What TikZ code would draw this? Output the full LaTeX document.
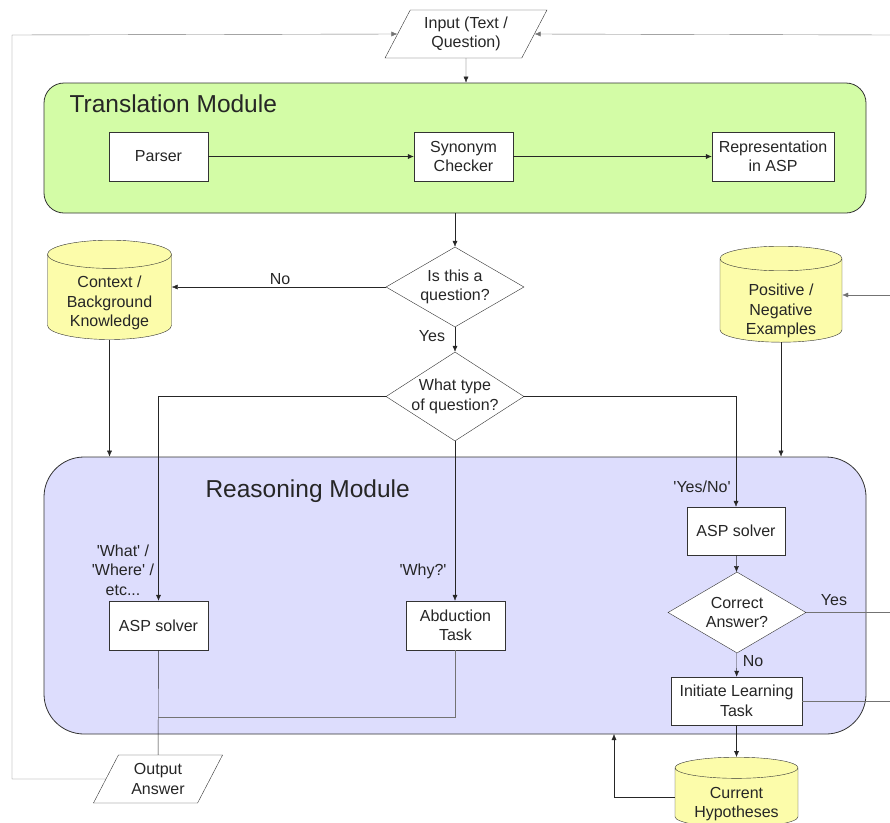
\documentclass[tikz,border=0pt]{standalone}
\usepackage{fontspec}
\setmainfont[Ligatures=TeXOff]{Liberation Sans}
\usepackage{tikz}
\usetikzlibrary{shapes.geometric,arrows.meta}

\definecolor{transgreen}{RGB}{211,252,166}
\definecolor{reasonblue}{RGB}{221,221,253}
\definecolor{storeyellow}{RGB}{252,252,170}

\begin{document}
\begin{tikzpicture}[x=1pt,y=-1pt,
		every node/.style={font=\fontsize{16}{19.5}\selectfont, align=center, text=black!85},
		process/.style={draw=black!80, fill=white, minimum width=99pt, minimum height=49pt, inner sep=2pt},
		decision/.style={draw=black!80, fill=white, diamond, shape aspect=1.72, minimum width=138pt, minimum height=80pt, inner sep=-6pt},
		inout/.style={draw=black!80, fill=white, trapezium, trapezium left angle=62, trapezium right angle=118, trapezium stretches=true, minimum height=48pt, inner sep=1pt},
		store/.style={draw=black!80, fill=storeyellow, cylinder, shape border rotate=90, aspect=0.22, minimum width=124pt, inner xsep=0pt, anchor=north},
		module/.style={draw=black!80, line width=0.8pt},
		title/.style={font=\fontsize{24.5}{28}\selectfont, anchor=west},
		conn/.style={draw=black!85, -{Latex[length=6pt,width=5pt]}},
		wire/.style={draw=black!85},
		loop/.style={draw=black!55}]

			\useasboundingbox (0,0) rectangle (890,822);

			\coordinate (lft) at (12,35);
			\coordinate (rgtin) at (890,35);
			\coordinate (rgtpos) at (890,295);
			\coordinate (rgtyes) at (890,613);
			\coordinate (rgtinit) at (890,701);
			\coordinate (join) at (158,717);
			\coordinate (fb) at (614,734);

			\node [module, fill=transgreen, rounded corners=20pt, minimum width=822pt, minimum height=130pt] (trans) at (455,148) {};
			\node [title] (transtitle) at (66,104) {Translation Module};
			\node [module, fill=reasonblue, rounded corners=40pt, minimum width=822pt, minimum height=277pt] (reason) at (455,595.5) {};
			\node [title] (reasontitle) at (202,491) {Reasoning Module};

			\node [inout, minimum width=162pt] (inp) at (466,34) {Input (Text /\\Question)};
			\node [inout, minimum width=130pt] (out) at (158,779) {Output\\Answer};

			\node [process] (parser) at (158.5,156.5) {Parser};
			\node [process] (syn) at (463.5,156.5) {Synonym\\Checker};
			\node [process, minimum width=122pt] (repr) at (773,156.5) {Representation\\in ASP};

			\node [decision] (isq) at (455,287) {Is this a\\question?};
			\node [decision, minimum height=89pt, shape aspect=1.55] (what) at (455,396.5) {What type\\of question?};

			\node [store, aspect=0.33, minimum height=94pt, inner ysep=-4.5pt] (ctx) at (109.5,240) {\rule{0pt}{23.5pt}Context /\\Background\\Knowledge};
			\node [store, aspect=0.35, minimum width=122pt, minimum height=96pt, inner ysep=-9pt] (pos) at (781,246) {\rule{0pt}{32.5pt}Positive /\\Negative\\Examples};

			\node [process] (asp1) at (158.5,625.5) {ASP solver};
			\node [process] (abd) at (455.5,625.5) {Abduction\\Task};
			\node [process, minimum width=98pt, minimum height=48pt] (asp2) at (736,531) {ASP solver};
			\node [decision, minimum height=81pt] (correct) at (737,612.5) {Correct\\Answer?};
			\node [process, minimum width=131pt, minimum height=48pt] (init) at (736.5,701) {Initiate Learning\\Task};
			\node [store, aspect=0.25, minimum width=123pt, minimum height=70pt, inner ysep=-5pt] (hyp) at (736.5,757) {\rule{0pt}{24.5pt}Current\\Hypotheses};

			\node (nolbl) at (280,279) {No};
			\node (yeslbl) at (432,336) {Yes};
			\node (whatlbl) at (123,570) {'What' /\\'Where' /\\etc...};
			\node (whylbl) at (423,571) {'Why?'};
			\node (yesnolbl) at (702,487) {'Yes/No'};
			\node (nolbl2) at (753,661) {No};
			\node (yeslbl2) at (834,600) {Yes};

			\draw [conn] (inp) -- (inp |- trans.north);
			\draw [conn] (parser) -- (syn);
			\draw [conn] (syn) -- (repr);
			\draw [conn] (trans.south -| isq) -- (isq.north);
			\draw [conn] (isq.west) -- (isq.west -| ctx.east);
			\draw [conn] (isq.south) -- (what.north);
			\draw [conn] (what.west) -| (asp1.north);
			\draw [conn] (what.south) -- (what.south |- abd.north);
			\draw [conn] (what.east) -| (asp2.north);
			\draw [conn] (ctx.south) -- (ctx.south |- reason.north);
			\draw [conn] (pos.south) -- (pos.south |- reason.north);
			\draw [conn] (asp2) -- (correct);
			\draw [conn] (correct) -- (init);
			\draw [conn] (init) -- (hyp.north);
			\draw [conn] (hyp.west) -| (fb);
			\draw [wire] (asp1) -- (out);
			\draw [loop] (abd.south) |- (join);
			\draw [loop] (correct.east) -- (correct.east -| rgtyes);
			\draw [loop] (init.east) -- (init.east -| rgtinit);
			\draw [conn, draw=black!55] (rgtpos) -- (rgtpos -| pos.east);
			\draw [conn, draw=black!55] (rgtin) -- (inp.east);
			\draw [conn, draw=black!55] (out.west) -- (out.west -| lft) -- (lft) -- (inp.west);

		\end{tikzpicture}
\end{document}
